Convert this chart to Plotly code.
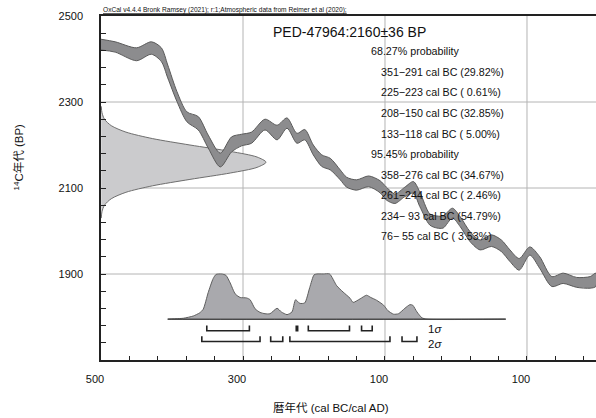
import plotly.graph_objects as go

# ---------------- data ----------------
# calibration curve: calendar year (negative = BC), upper / lower 14C BP edge of band
cal_years = [-500, -480, -450, -429, -415, -406, -393, -379, -363, -349,
             -332, -316, -302, -288, -269, -252, -238, -224, -213, -201,
             -189, -177, -163, -154, -140, -123, -107, -98, -86, -72,
             -60, -51, -37, -27, -18, -5, 6, 20, 34, 50,
             64, 76, 89, 104, 118, 135, 151, 170, 189, 197]
cal_upper = [2446, 2440, 2426, 2440, 2426, 2386, 2324, 2277, 2266, 2223,
             2181, 2219, 2225, 2230, 2260, 2246, 2263, 2227, 2236, 2200,
             2177, 2169, 2142, 2125, 2119, 2128, 2117, 2102, 2086, 2102,
             2115, 2091, 2040, 2035, 2035, 2053, 2033, 1998, 1979, 1991,
             1979, 1956, 1936, 1963, 1940, 1894, 1902, 1892, 1894, 1902]
cal_lower = [2421, 2416, 2396, 2411, 2394, 2356, 2301, 2254, 2235, 2193,
             2149, 2184, 2198, 2204, 2235, 2212, 2239, 2204, 2212, 2177,
             2150, 2142, 2119, 2102, 2095, 2103, 2089, 2072, 2064, 2080,
             2088, 2057, 2014, 2007, 2007, 2030, 2010, 1975, 1956, 1964,
             1952, 1929, 1909, 1944, 1913, 1871, 1878, 1869, 1867, 1871]

# measured 14C age distribution (BP, relative density)
bp_vals = [2290, 2275, 2260, 2245, 2230, 2215, 2200, 2185, 2172, 2160,
           2148, 2135, 2120, 2105, 2090, 2075, 2060, 2045, 2030]
bp_dens = [0.0015, 0.006, 0.021, 0.062, 0.151, 0.311, 0.539, 0.786, 0.946, 1.0,
           0.946, 0.786, 0.539, 0.311, 0.151, 0.062, 0.021, 0.006, 0.0015]

# calibrated date probability (year, relative probability)
dist_years = [-406, -384, -370, -361, -356, -349, -342, -338, -330, -324,
              -318, -311, -304, -295, -290, -283, -276, -269, -262, -252,
              -246, -238, -231, -226, -220, -213, -206, -200, -196, -187,
              -178, -168, -159, -149, -145, -135, -126, -120, -112, -102,
              -96, -88, -81, -72, -65, -61, -55, -48, -41, 70]
dist_prob = [0, 0.02, 0.07, 0.14, 0.22, 0.59, 0.9, 0.99, 1.0, 0.97,
             0.8, 0.56, 0.48, 0.47, 0.43, 0.23, 0.15, 0.12, 0.12, 0.24,
             0.16, 0.10, 0.16, 0.43, 0.35, 0.36, 0.70, 0.98, 1.0, 1.0,
             1.0, 0.74, 0.60, 0.46, 0.37, 0.45, 0.53, 0.48, 0.42, 0.31,
             0.19, 0.11, 0.12, 0.24, 0.32, 0.31, 0.16, 0.03, 0, 0]

sigma1_ranges = [(-351, -291), (-225, -223), (-208, -150), (-133, -118)]
sigma2_ranges = [(-358, -276), (-261, -244), (-234, -93), (-76, -55)]

sample_title = "PED-47964:2160\u00b136 BP"
header_text = "OxCal v4.4.4 Bronk Ramsey (2021); r:1;Atmospheric data from Reimer et al (2020);"
prob_headers = ["68.27% probability", "95.45% probability"]
range_lines_1 = ["351\u2212291 cal BC (29.82%)", "225\u2212223 cal BC ( 0.61%)",
                 "208\u2212150 cal BC (32.85%)", "133\u2212118 cal BC ( 5.00%)"]
range_lines_2 = ["358\u2212276 cal BC (34.67%)", "261\u2212244 cal BC ( 2.46%)",
                 "234\u2212 93 cal BC (54.79%)", "76\u2212 55 cal BC ( 3.53%)"]

x_major = [-500, -300, -100, 100]
x_major_text = ["500", "300", "100", "100"]
y_major = [1900, 2100, 2300, 2500]
y_major_text = ["1900", "2100", "2300", "2500"]

# ---------------- layout constants ----------------
X0, X1 = -500, 197.2
Y0, Y1 = 1700, 2500
L, T, W, H = 101, 16, 596, 418
PW, PH = W - L, 360 - T
BP_PEAK_W = 232.4          # year-units width of the measured-age peak
DIST_BASE, DIST_H = 1795, 105
S1_LINE, S2_LINE, BR_H = 1768, 1743, 12

FONT = "Liberation Sans, Arial, Noto Sans CJK JP, sans-serif"


def px(xp):
    return (xp - L) / PW


def py(yp):
    return (T + PH - yp) / PH


fig = go.Figure()

# measured 14C distribution on y-axis
fig.add_trace(go.Scatter(
    x=[X0 + d * BP_PEAK_W for d in bp_dens], y=bp_vals,
    mode="lines", fill="toself", fillcolor="#cbcbcd",
    line=dict(color="#6e6e6e", width=1, shape="spline", smoothing=0.8),
    hoverinfo="skip"))

# calibration curve band
band_x = cal_years + cal_years[::-1]
band_y = cal_upper + cal_lower[::-1]
fig.add_trace(go.Scatter(
    x=band_x, y=band_y, mode="lines", fill="toself", fillcolor="#8c8c8e",
    line=dict(color="#5a5a5a", width=1, shape="spline", smoothing=0.8),
    hoverinfo="skip"))

# calibrated distribution
dx = dist_years + [dist_years[0]]
dy = [DIST_BASE + p * DIST_H for p in dist_prob] + [DIST_BASE]
fig.add_trace(go.Scatter(
    x=dx, y=dy, mode="lines", fill="toself", fillcolor="#a9a9ad",
    line=dict(color="#5e5e5e", width=1, shape="spline", smoothing=0.6),
    hoverinfo="skip"))
fig.add_trace(go.Scatter(
    x=[dist_years[0], dist_years[-1]], y=[DIST_BASE, DIST_BASE],
    mode="lines", line=dict(color="#3a3a3a", width=1), hoverinfo="skip"))


def brackets(ranges, yline):
    xs, ys = [], []
    for a, b in ranges:
        xs += [a, a, b, b, None]
        ys += [yline + BR_H, yline, yline, yline + BR_H, None]
    return xs, ys


for rng, yl in ((sigma1_ranges, S1_LINE), (sigma2_ranges, S2_LINE)):
    bx, by = brackets(rng, yl)
    fig.add_trace(go.Scatter(x=bx, y=by, mode="lines",
                             line=dict(color="#222222", width=1.6),
                             hoverinfo="skip"))

# gridlines
shapes = []
for xv in x_major[1:]:
    shapes.append(dict(type="line", xref="x", yref="paper", x0=xv, x1=xv, y0=0, y1=1,
                       line=dict(color="#b4b4b4", width=1), layer="below"))
for yv in y_major[:-1]:
    shapes.append(dict(type="line", xref="paper", yref="y", x0=0, x1=1, y0=yv, y1=yv,
                       line=dict(color="#b4b4b4", width=1), layer="below"))

x_minor = list(range(-500, 200, 40))
y_minor = list(range(1700, 2501, 40))

fig.update_layout(
    width=W, height=H,
    margin=dict(l=L, r=0, t=T, b=H - 360, pad=0),
    plot_bgcolor="white", paper_bgcolor="white",
    showlegend=False,
    font=dict(family=FONT, size=11, color="#111111"),
    shapes=shapes,
    xaxis=dict(range=[X0, X1], tickmode="array", tickvals=x_major, ticktext=x_major_text,
               ticks="inside", ticklen=4, tickwidth=1, tickcolor="#222",
               minor=dict(tickmode="array", tickvals=x_minor, ticks="inside", ticklen=4,
                          tickwidth=1, tickcolor="#222", showgrid=False),
               showgrid=False, zeroline=False, showline=True, linecolor="#222",
               linewidth=1.5, mirror=True, ticklabelstandoff=8, ticklabelshift=-6,
               tickfont=dict(size=11)),
    yaxis=dict(range=[Y0, Y1], tickmode="array", tickvals=y_major, ticktext=y_major_text,
               ticks="inside", ticklen=5, tickwidth=1, tickcolor="#222",
               minor=dict(tickmode="array", tickvals=y_minor, ticks="inside", ticklen=5,
                          tickwidth=1, tickcolor="#222", showgrid=False),
               showgrid=False, zeroline=False, showline=True, linecolor="#222",
               linewidth=1.5, ticklabelstandoff=14, tickfont=dict(size=11)),
)

ann = []
ann.append(dict(x=px(101), y=py(10), xref="paper", yref="paper", text="<u>" + header_text + "</u>",
                showarrow=False, xanchor="left", yanchor="middle", font=dict(size=6.6)))
ann.append(dict(x=px(271), y=py(32), xref="paper", yref="paper", text=sample_title,
                showarrow=False, xanchor="left", yanchor="middle", font=dict(size=14)))
rows = [(369, prob_headers[0])] + [(379, s) for s in range_lines_1] + \
       [(369, prob_headers[1])] + [(379, s) for s in range_lines_2]
for i, (xp, s) in enumerate(rows):
    ann.append(dict(x=px(xp), y=py(51.5 + i * 20.5), xref="paper", yref="paper", text=s,
                    showarrow=False, xanchor="left", yanchor="middle", font=dict(size=10.7)))
ann.append(dict(x=px(426), y=py(328.5), xref="paper", yref="paper", text="1<i>\u03c3</i>",
                showarrow=False, xanchor="left", yanchor="middle", font=dict(size=11.5)))
ann.append(dict(x=px(426), y=py(344), xref="paper", yref="paper", text="2<i>\u03c3</i>",
                showarrow=False, xanchor="left", yanchor="middle", font=dict(size=11.5)))
ann.append(dict(x=px(331), y=py(407), xref="paper", yref="paper",
                text="\u66a6\u5e74\u4ee3 (cal BC/cal AD)",
                showarrow=False, xanchor="center", yanchor="middle", font=dict(size=11.5)))
ann.append(dict(x=px(18.5), y=py(157), xref="paper", yref="paper",
                text="<sup>14</sup>C\u5e74\u4ee3 (BP)", textangle=-90,
                showarrow=False, xanchor="center", yanchor="middle", font=dict(size=11.5)))
fig.update_layout(annotations=ann)

fig.write_html("out.html", config={"displayModeBar": False},
               post_script="document.body.style.margin='0';")
